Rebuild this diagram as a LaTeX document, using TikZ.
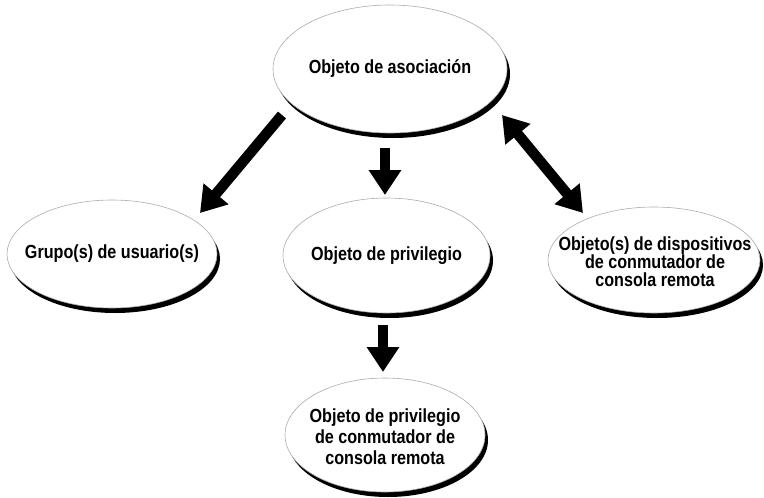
\documentclass[tikz,border=0pt]{standalone}
\usepackage{fontspec}
\setmainfont{Liberation Sans}[FakeStretch=0.85]
\usetikzlibrary{shapes.geometric,arrows.meta,shadows,calc}
\tikzset{
  obj/.style={ellipse, draw=gray!65, line width=0.6pt, fill=white, inner sep=0pt, outer sep=0pt,
    general shadow={fill=black, shadow xshift=3pt, shadow yshift=-5pt}},
  lbl/.style={inner sep=0pt, font=\bfseries\fontsize{19}{20}\selectfont, align=center},
  bigarrow/.style={line width=10.5pt, -{Triangle[length=25pt,width=31pt]}},
  dblarrow/.style={line width=10.5pt, {Triangle[length=25pt,width=31pt]}-{Triangle[length=25pt,width=31pt]}}
}
\begin{document}
\begin{tikzpicture}[x=1pt,y=-1pt]
\useasboundingbox (0,0) rectangle (764,498);
\node[obj, minimum width=234pt, minimum height=128pt] (assoc) at (390,69) {};
\node[lbl] (assoc-t) at (assoc.center) {Objeto de asociación};
\node[obj, minimum width=210pt, minimum height=108pt] (grupo) at (112,254) {};
\node[lbl] (grupo-t) at (grupo.center) {Grupo(s) de usuario(s)};
\node[obj, minimum width=207pt, minimum height=115pt] (priv) at (386.5,255.5) {};
\node[lbl] (priv-t) at (priv.center) {Objeto de privilegio};
\node[obj, minimum width=212pt, minimum height=106pt] (disp) at (654,260) {};
\node[lbl, font=\bfseries\fontsize{19}{18}\selectfont] (disp-t) at ($(disp.center)+(1,2)$) {Objeto(s) de dispositivos\\de conmutador de\\consola remota};
\node[obj, minimum width=200pt, minimum height=114pt] (privkvm) at (385,435) {};
\node[lbl, font=\bfseries\fontsize{19}{21}\selectfont] (privkvm-t) at ($(privkvm.center)+(0,2)$) {Objeto de privilegio\\de conmutador de\\consola remota};
\draw[bigarrow] ($(assoc.center)+(-108,46)$) -- ($(grupo.center)+(88,-41)$);
\draw[bigarrow] ($(assoc.center)+(-5,79)$) -- ($(priv.center)+(-1.5,-60.5)$);
\draw[dblarrow] ($(assoc.center)+(112,46)$) -- ($(disp.center)+(-71,-47)$);
\draw[bigarrow] ($(priv.center)+(-3.5,69.5)$) -- ($(privkvm.center)+(-2,-63)$);
\end{tikzpicture}
\end{document}
